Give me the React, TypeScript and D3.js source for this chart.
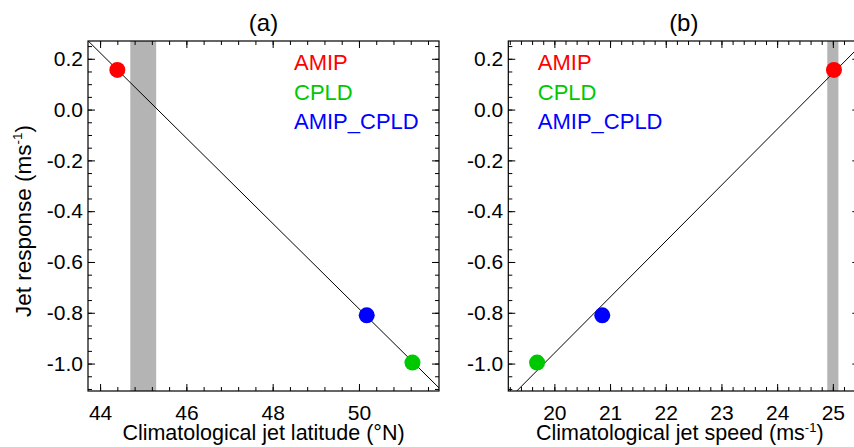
import React, { useEffect, useRef } from "react";
import * as d3 from "d3";

// model runs
const models = ["AMIP", "CPLD", "AMIP_CPLD"];
const modelColors = ["#ff0000", "#00c800", "#0000ff"];

// values
const jetLatitude = [44.4, 51.24, 50.18];
const jetSpeed = [25.02, 19.69, 20.86];
const jetResponse = [0.156, -0.996, -0.81];

// shaded observational ranges
const latitudeBand = [44.7, 45.3];
const speedBand = [24.9, 25.1];

const yTicks = [-1.0, -0.8, -0.6, -0.4, -0.2, 0.0, 0.2];
const latTicks = [44, 46, 48, 50];
const speedTicks = [20, 21, 22, 23, 24, 25];

const FONT = "'Liberation Sans', Arial, Helvetica, sans-serif";

function fit(xs: number[], ys: number[]) {
  const mx = d3.mean(xs)!;
  const my = d3.mean(ys)!;
  let sxy = 0;
  let sxx = 0;
  xs.forEach((x, i) => {
    sxy += (x - mx) * (ys[i] - my);
    sxx += (x - mx) * (x - mx);
  });
  const slope = sxy / sxx;
  return (x: number) => my + slope * (x - mx);
}

// plain hyphen instead of d3's unicode minus
const fmt1 = (d: any) => d3.format(".1f")(d).replace("−", "-");

export default function App() {
  const ref = useRef<SVGSVGElement>(null);

  useEffect(() => {
    const svg = d3.select(ref.current);
    svg.selectAll("*").remove();

    const top = 41;
    const h = 350;
    const w = 351;

    const y = d3.scaleLinear().domain([-1.108, 0.27]).range([top + h, top]);

    const panels = [
      {
        id: "a",
        left: 88,
        xs: jetLatitude,
        domain: [43.72, 51.855],
        ticks: latTicks,
        minorStep: 0.4,
        band: latitudeBand,
        label: "Climatological jet latitude (°N)",
        sup: false,
        legendX: 206,
      },
      {
        id: "b",
        left: 508.3,
        xs: jetSpeed,
        domain: [19.173, 25.475],
        ticks: speedTicks,
        minorStep: 0.2,
        band: speedBand,
        label: "Climatological jet speed (ms",
        sup: true,
        legendX: 29.5,
      },
    ];

    panels.forEach((p) => {
      const x = d3.scaleLinear().domain(p.domain).range([p.left, p.left + w]);
      const g = svg.append("g");

      const clipId = "clip-" + p.id;
      svg
        .append("clipPath")
        .attr("id", clipId)
        .append("rect")
        .attr("x", p.left)
        .attr("y", top)
        .attr("width", w)
        .attr("height", h);

      const plot = g.append("g").attr("clip-path", `url(#${clipId})`);

      // grey band
      plot
        .append("rect")
        .attr("x", x(p.band[0]))
        .attr("y", top)
        .attr("width", x(p.band[1]) - x(p.band[0]))
        .attr("height", h)
        .attr("fill", "#b4b4b4");

      // regression line
      const f = fit(p.xs, jetResponse);
      const line = d3
        .line<number>()
        .x((d) => x(d))
        .y((d) => y(f(d)));
      plot
        .append("path")
        .attr("d", line(p.domain))
        .attr("stroke", "#000")
        .attr("stroke-width", 1)
        .attr("fill", "none");

      // points
      plot
        .selectAll("circle")
        .data(models)
        .join("circle")
        .attr("cx", (d, i) => x(p.xs[i]))
        .attr("cy", (d, i) => y(jetResponse[i]))
        .attr("r", 8)
        .attr("fill", (d, i) => modelColors[i]);

      // axes: major + minor, inward ticks on all four sides
      const yMinor = d3.range(-1.1, 0.2701, 0.05).filter((v) => v >= -1.108);
      const xMinor = d3
        .range(p.ticks[0] - 4 * p.minorStep, p.domain[1], p.minorStep)
        .filter((v) => v >= p.domain[0] && v <= p.domain[1]);

      const addAxis = (axis: any, tx: number, ty: number, labels: boolean) => {
        const a = g
          .append("g")
          .attr("transform", `translate(${tx},${ty})`)
          .call(axis);
        a.selectAll("path").remove();
        a.selectAll("line").attr("stroke", "#000").attr("stroke-width", 1);
        if (labels) {
          a.selectAll("text")
            .attr("font-family", FONT)
            .attr("font-size", 21)
            .attr("fill", "#000");
        } else {
          a.selectAll("text").remove();
        }
      };

      addAxis(
        d3.axisLeft(y).tickValues(yTicks).tickSize(-7).tickPadding(5).tickFormat(fmt1),
        p.left, 0, true
      );
      addAxis(d3.axisLeft(y).tickValues(yMinor).tickSize(-4), p.left, 0, false);
      addAxis(d3.axisRight(y).tickValues(yTicks).tickSize(-7), p.left + w, 0, false);
      addAxis(d3.axisRight(y).tickValues(yMinor).tickSize(-4), p.left + w, 0, false);

      addAxis(
        d3.axisBottom(x).tickValues(p.ticks).tickSize(-7).tickPadding(14).tickFormat(d3.format("d")),
        0, top + h, true
      );
      addAxis(d3.axisBottom(x).tickValues(xMinor).tickSize(-4), 0, top + h, false);
      addAxis(d3.axisTop(x).tickValues(p.ticks).tickSize(-7), 0, top, false);
      addAxis(d3.axisTop(x).tickValues(xMinor).tickSize(-4), 0, top, false);

      // frame
      g.append("rect")
        .attr("x", p.left)
        .attr("y", top)
        .attr("width", w)
        .attr("height", h)
        .attr("fill", "none")
        .attr("stroke", "#000")
        .attr("stroke-width", 1.2);

      // title
      g.append("text")
        .attr("x", p.left + w / 2)
        .attr("y", 31)
        .attr("text-anchor", "middle")
        .attr("font-family", FONT)
        .attr("font-size", 24)
        .text(`(${p.id})`);

      // x label
      const xl = g
        .append("text")
        .attr("x", p.left + w / 2 + (p.sup ? -4 : 0))
        .attr("y", 440)
        .attr("text-anchor", "middle")
        .attr("font-family", FONT)
        .attr("font-size", 21.5)
        .text(p.label);
      if (p.sup) {
        xl.append("tspan").attr("dy", -8).attr("font-size", 13).text("-1");
        xl.append("tspan").attr("dy", 8).text(")");
      }

      // legend
      models.forEach((m, i) => {
        g.append("text")
          .attr("x", p.left + p.legendX)
          .attr("y", 70 + i * 29.5)
          .attr("font-family", FONT)
          .attr("font-size", 22)
          .attr("fill", modelColors[i])
          .text(m);
      });
    });

    // y label
    const yl = svg
      .append("text")
      .attr("transform", `translate(31,221) rotate(-90)`)
      .attr("text-anchor", "middle")
      .attr("font-family", FONT)
      .attr("font-size", 22.5)
      .text("Jet response (ms");
    yl.append("tspan").attr("dy", -9).attr("font-size", 13.5).text("-1");
    yl.append("tspan").attr("dy", 9).text(")");
  }, []);

  return (
    <svg
      ref={ref}
      width={854}
      height={447}
      style={{ position: "absolute", left: 0, top: 0, background: "#fff" }}
    />
  );
}
